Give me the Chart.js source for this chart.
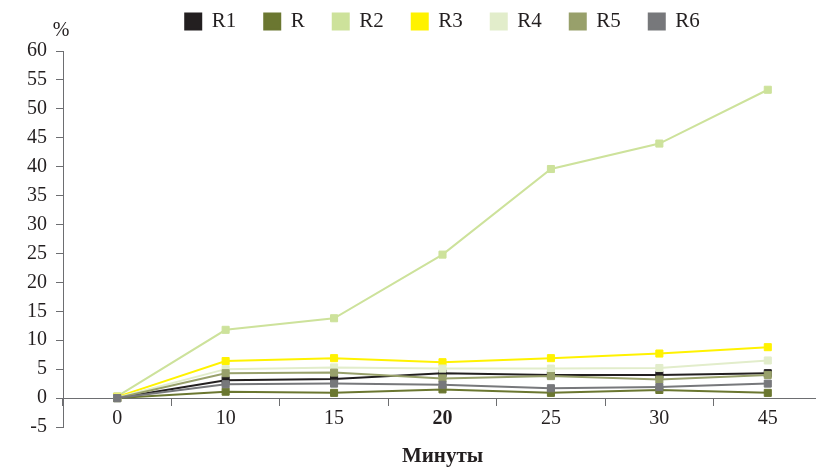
<!DOCTYPE html>
<html>
<head>
<meta charset="utf-8">
<script src="https://cdn.jsdelivr.net/npm/chart.js@4"></script>
<style>
  html, body { margin: 0; padding: 0; background: #fff; overflow: hidden; }
  #wrap { width: 828px; height: 467px; position: relative; }
</style>
</head>
<body>
<div id="wrap"><canvas id="c"></canvas></div>
<script>
// minutes on x, % on y
const xLabels = ["0", "10", "15", "20", "25", "30", "45"];
const seriesNames = ["R1", "R", "R2", "R3", "R4", "R5", "R6"];

const r1 = [0, 3.1, 3.3, 4.3, 4.0, 4.0, 4.3];
const r  = [0, 1.1, 0.9, 1.5, 0.9, 1.4, 0.9];
const r2 = [0.3, 11.8, 13.8, 24.8, 39.6, 44.0, 53.3];
const r3 = [0.2, 6.4, 6.9, 6.2, 6.9, 7.7, 8.8];
const r4 = [0.1, 5.0, 5.3, 5.1, 5.1, 5.2, 6.5];
const r5 = [0, 4.3, 4.4, 3.4, 3.8, 3.2, 4.0];
const r6 = [0, 2.4, 2.5, 2.3, 1.7, 1.9, 2.5];

const colors = ["#231f20", "#6b7731", "#cde29b", "#fff200", "#e2edcb", "#98a06b", "#77787b"];

const FONT = "'Liberation Serif', 'DejaVu Serif', serif";
const INK = "#231f20";
const AXIS = "#6d6e71";

const allSeries = [r1, r, r2, r3, r4, r5, r6];

const datasets = allSeries.map((vals, i) => ({
    label: seriesNames[i],
    data: vals,
    borderColor: colors[i],
    backgroundColor: colors[i],
    borderWidth: 2,
    pointStyle: "rect",
    pointRadius: 5,
    pointBorderWidth: 1,
    pointBackgroundColor: colors[i],
    pointBorderColor: colors[i],
    tension: 0,
    order: allSeries.length - i   // last series drawn on top
}));

// legend: wide gaps between items but a short box
const legendFit = {
    id: "legendFit",
    beforeLayout(chart) {
        const lg = chart.legend;
        if (!lg || lg._fitFixed) return;
        const orig = lg.fit;
        lg.fit = function () {
            orig.call(this);
            this.height = 68;
        };
        lg._fitFixed = true;
    }
};

// "%" above the y axis
const percentMark = {
    id: "percentMark",
    afterDraw(chart) {
        const ctx = chart.ctx;
        const a = chart.chartArea;
        ctx.save();
        ctx.font = "20px " + FONT;
        ctx.fillStyle = INK;
        ctx.textAlign = "center";
        ctx.textBaseline = "middle";
        ctx.fillText("%", a.left - 2, 31);
        ctx.restore();
    }
};

new Chart(document.getElementById("c"), {
    type: "line",
    data: { labels: xLabels, datasets },
    plugins: [legendFit, percentMark],
    options: {
        responsive: true,
        maintainAspectRatio: false,
        animation: false,
        layout: { padding: { top: -17, left: 18, right: 0, bottom: 40 } },
        plugins: {
            tooltip: { enabled: false },
            legend: {
                position: "top",
                fullSize: false,
                labels: {
                    font: { family: FONT, size: 21 },
                    color: INK,
                    boxWidth: 16,
                    boxHeight: 16,
                    padding: 28,
                    sort: (a, b) => a.datasetIndex - b.datasetIndex
                }
            }
        },
        scales: {
            x: {
                type: "category",
                position: { y: 0 },
                offset: true,
                grid: {
                    offset: true,
                    drawOnChartArea: false,
                    drawTicks: true,
                    tickLength: 7,
                    color: AXIS
                },
                border: { display: true, color: AXIS, width: 1 },
                ticks: {
                    color: INK,
                    padding: 2,
                    maxRotation: 0,
                    font: (c) => ({
                        family: FONT,
                        size: 20,
                        weight: (c.tick && xLabels[c.tick.value] === "20") ? "bold" : "normal"
                    })
                },
                title: {
                    display: true,
                    text: "Минуты",
                    color: INK,
                    font: { family: FONT, size: 21, weight: "bold" },
                    padding: { top: 11, bottom: 0 }
                }
            },
            y: {
                min: -5,
                max: 60,
                grid: {
                    drawOnChartArea: false,
                    drawTicks: true,
                    tickLength: 7,
                    color: AXIS
                },
                border: { display: true, color: AXIS, width: 1 },
                ticks: {
                    stepSize: 5,
                    color: INK,
                    padding: 9,
                    font: { family: FONT, size: 20 }
                }
            }
        }
    }
});
</script>
</body>
</html>
